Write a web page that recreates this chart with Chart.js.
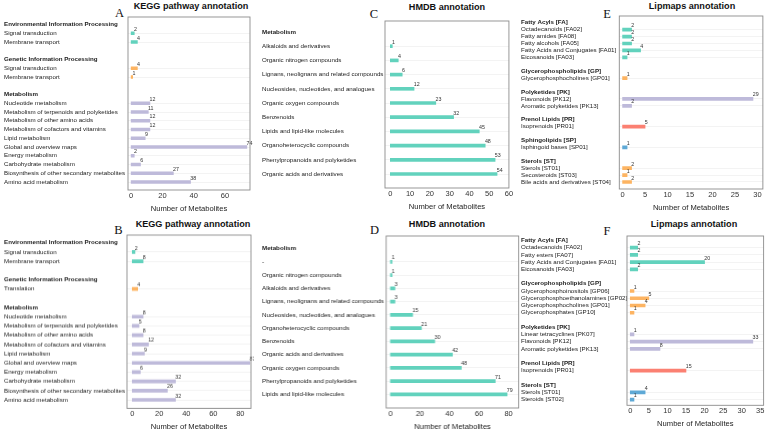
<!DOCTYPE html>
<html>
<head>
<meta charset="utf-8">
<script src="https://cdn.jsdelivr.net/npm/chart.js@4.4.1/dist/chart.umd.min.js"></script>
<style>
body { margin: 0; background: #fff; width: 766px; height: 434px; position: relative; overflow: hidden; font-family: "Liberation Sans", Arial, sans-serif; }
.panel { position: absolute; }
.title { position: absolute; font-weight: bold; font-size: 9.1px; color: #111; transform: translate(-50%, -50%); white-space: nowrap; line-height: 1; }
.tag { position: absolute; font-family: "Liberation Serif", "Times New Roman", serif; font-size: 12.5px; color: #111; transform: translate(-50%, -50%); line-height: 1; }
</style>
</head>
<body>
<div class="title" style="left:191px;top:7px">KEGG pathway annotation</div>
<div class="title" style="left:193px;top:225px">KEGG pathway annotation</div>
<div class="title" style="left:447px;top:8px">HMDB annotation</div>
<div class="title" style="left:447px;top:225px">HMDB annotation</div>
<div class="title" style="left:692px;top:7px">Lipmaps annotation</div>
<div class="title" style="left:694px;top:225px">Lipmaps annotation</div>
<div class="tag" style="left:119.5px;top:12.5px">A</div>
<div class="tag" style="left:118.5px;top:229.5px">B</div>
<div class="tag" style="left:374px;top:14px">C</div>
<div class="tag" style="left:374.5px;top:229.5px">D</div>
<div class="tag" style="left:607px;top:14px">E</div>
<div class="tag" style="left:607px;top:231px">F</div>
<script>
const FONT = '"Liberation Sans", Arial, sans-serif';
const TEAL = '#62d2bd', ORANGE = '#fdb462', LAVENDER = '#bebada', SALMON = '#fb8072', BLUE = '#5ea9d6';

// A: KEGG
const keggAGroups = ['Environmental Information Processing', 'Genetic Information Processing', 'Metabolism'];
const keggAItems = [
    ['Signal transduction', 'Membrane transport'],
    ['Signal transduction', 'Membrane transport'],
    ['Nucleotide metabolism', 'Metabolism of terpenoids and polyketides', 'Metabolism of other amino acids',
     'Metabolism of cofactors and vitamins', 'Lipid metabolism', 'Global and overview maps', 'Energy metabolism',
     'Carbohydrate metabolism', 'Biosynthesis of other secondary metabolites', 'Amino acid metabolism']
];
const keggAValues = [[2, 4], [4, 1], [12, 11, 12, 12, 9, 74, 2, 6, 27, 38]];

// B: KEGG
const keggBGroups = ['Environmental Information Processing', 'Genetic Information Processing', 'Metabolism'];
const keggBItems = [
    ['Signal transduction', 'Membrane transport'],
    ['Translation'],
    keggAItems[2]
];
const keggBValues = [[2, 8], [4], [8, 5, 8, 12, 9, 87, 6, 32, 26, 32]];
const keggColors = [TEAL, ORANGE, LAVENDER];

// C: HMDB
const hmdbCGroups = ['Metabolism'];
const hmdbCItems = [[
    'Alkaloids and derivatives', 'Organic nitrogen compounds', 'Lignans, neolignans and related compounds',
    'Nucleosides, nucleotides, and analogues', 'Organic oxygen compounds', 'Benzenoids',
    'Lipids and lipid-like molecules', 'Organoheterocyclic compounds', 'Phenylpropanoids and polyketides',
    'Organic acids and derivatives'
]];
const hmdbCValues = [[1, 4, 6, 12, 23, 32, 45, 48, 53, 54]];

// D: HMDB
const hmdbDGroups = ['Metabolism'];
const hmdbDItems = [[
    '-', 'Organic nitrogen compounds', 'Alkaloids and derivatives', 'Lignans, neolignans and related compounds',
    'Nucleosides, nucleotides, and analogues', 'Organoheterocyclic compounds', 'Benzenoids',
    'Organic acids and derivatives', 'Organic oxygen compounds', 'Phenylpropanoids and polyketides',
    'Lipids and lipid-like molecules'
]];
const hmdbDValues = [[1, 1, 3, 3, 15, 21, 30, 42, 48, 71, 79]];
const hmdbColors = [TEAL];

// E: Lipmaps
const lipEGroups = ['Fatty Acyls [FA]', 'Glycerophospholipids [GP]', 'Polyketides [PK]', 'Prenol Lipids [PR]', 'Sphingolipids [SP]', 'Sterols [ST]'];
const lipEItems = [
    ['Octadecanoids [FA02]', 'Fatty amides [FA08]', 'Fatty alcohols [FA05]', 'Fatty Acids and Conjugates [FA01]', 'Eicosanoids [FA03]'],
    ['Glycerophosphocholines [GP01]'],
    ['Flavonoids [PK12]', 'Aromatic polyketides [PK13]'],
    ['Isoprenoids [PR01]'],
    ['Isphingoid bases [SP01]'],
    ['Sterols [ST01]', 'Secosteroids [ST03]', 'Bile acids and derivatives [ST04]']
];
const lipEValues = [[2, 2, 2, 4, 1], [1], [29, 2], [5], [1], [2, 1, 2]];
const lipEColors = [TEAL, ORANGE, LAVENDER, SALMON, BLUE, ORANGE];

// F: Lipmaps
const lipFGroups = ['Fatty Acyls [FA]', 'Glycerophospholipids [GP]', 'Polyketides [PK]', 'Prenol Lipids [PR]', 'Sterols [ST]'];
const lipFItems = [
    ['Octadecanoids [FA02]', 'Fatty esters [FA07]', 'Fatty Acids and Conjugates [FA01]', 'Eicosanoids [FA03]'],
    ['Glycerophosphoinositols [GP06]', 'Glycerophosphoethanolamines [GP02]', 'Glycerophosphocholines [GP01]', 'Glycerophosphates [GP10]'],
    ['Linear tetracyclines [PK07]', 'Flavonoids [PK12]', 'Aromatic polyketides [PK13]'],
    ['Isoprenoids [PR01]'],
    ['Sterols [ST01]', 'Steroids [ST02]']
];
const lipFValues = [[2, 2, 20, 2], [1, 5, 4, 1], [1, 33, 8], [15], [4, 1]];
const lipFColors = [TEAL, ORANGE, LAVENDER, SALMON, BLUE];

// header row, its items, then a blank spacer row between groups
function buildRows(groups, items, values, colors, gap) {
    const labels = [], data = [], bg = [], heads = new Set();
    groups.forEach((g, i) => {
        heads.add(labels.length);
        labels.push(g); data.push(null); bg.push('rgba(0,0,0,0)');
        items[i].forEach((it, j) => {
            labels.push(it); data.push(values[i][j]); bg.push(colors[i]);
        });
        if (gap && i < groups.length - 1) {
            labels.push(''); data.push(null); bg.push('rgba(0,0,0,0)');
        }
    });
    return { labels, data, bg, heads };
}

const framePlugin = {
    id: 'frame',
    afterDraw(chart, args, opts) {
        const { left, right } = chart.chartArea;
        const c = chart.ctx;
        c.save();
        c.strokeStyle = '#8c8c8c';
        c.lineWidth = 0.9;
        c.strokeRect(left, opts.top, right - left, opts.bottom - opts.top);
        c.restore();
    }
};

const valuePlugin = {
    id: 'values',
    afterDatasetsDraw(chart) {
        const c = chart.ctx;
        const meta = chart.getDatasetMeta(0);
        const vals = chart.data.datasets[0].data;
        c.save();
        c.font = '5.3px ' + FONT;
        c.fillStyle = '#333';
        c.textAlign = 'left';
        c.textBaseline = 'bottom';
        meta.data.forEach((bar, i) => {
            if (vals[i] == null) return;
            c.fillText(String(vals[i]), bar.x - 0.3, bar.y - 1.2);
        });
        c.restore();
    }
};

function drawPanel(rows, cfg) {
    const n = rows.labels.length;
    const s = (cfg.yN - cfg.y1) / (n - 1);
    const chartTop = cfg.y1 - s / 2, chartBottom = cfg.yN + s / 2;
    const cTop = cfg.boxT - 3, cLeft = cfg.labelX - 1;
    const cW = cfg.boxR + 3 - cLeft, cH = cfg.boxB + 25 - cTop;

    const div = document.createElement('div');
    div.className = 'panel';
    div.style.left = cLeft + 'px';
    div.style.top = cTop + 'px';
    div.style.width = cW + 'px';
    div.style.height = cH + 'px';
    const cv = document.createElement('canvas');
    div.appendChild(cv);
    document.body.appendChild(div);

    new Chart(cv, {
        type: 'bar',
        data: {
            labels: rows.labels,
            datasets: [{ data: rows.data, backgroundColor: rows.bg, barThickness: 3, borderWidth: 0 }]
        },
        options: {
            indexAxis: 'y',
            responsive: true,
            maintainAspectRatio: false,
            animation: false,
            events: [],
            layout: { padding: { left: 1, right: 3, top: chartTop - cTop, bottom: 2 } },
            plugins: {
                legend: { display: false },
                tooltip: { enabled: false },
                frame: { top: cfg.boxT - cTop, bottom: cfg.boxB - cTop }
            },
            scales: {
                x: {
                    type: 'linear',
                    min: cfg.xMin,
                    max: cfg.xMax,
                    border: { display: false },
                    grid: { display: false, drawTicks: false },
                    ticks: {
                        stepSize: cfg.step,
                        includeBounds: false,
                        maxRotation: 0,
                        padding: cfg.boxB - chartBottom + 1,
                        color: '#333',
                        font: { family: FONT, size: 7.5 }
                    },
                    title: {
                        display: true,
                        text: 'Number of Metabolites',
                        color: '#222',
                        padding: 0,
                        font: { family: FONT, size: 7.6 }
                    },
                    afterFit(sc) { sc.height = cfg.boxB + 23 - chartBottom; }
                },
                y: {
                    type: 'category',
                    offset: true,
                    border: { display: false },
                    grid: {
                        offset: false,
                        drawTicks: false,
                        lineWidth: 0.6,
                        color: ctx => rows.data[ctx.index] == null ? 'rgba(0,0,0,0)' : '#ebebeb'
                    },
                    ticks: {
                        crossAlign: 'far',
                        autoSkip: false,
                        padding: 0,
                        color: '#222',
                        font: ctx => ({ family: FONT, size: 6.2, weight: rows.heads.has(ctx.index) ? 'bold' : 'normal' })
                    },
                    afterFit(sc) { sc.width = cfg.boxL - cfg.labelX; }
                }
            }
        },
        plugins: [framePlugin, valuePlugin]
    });
}

drawPanel(buildRows(keggAGroups, keggAItems, keggAValues, keggColors, true),
    { labelX: 4, boxL: 128, boxR: 250, boxT: 17, boxB: 190, y1: 24.5, yN: 182, xMin: -2, xMax: 76, step: 20 });
drawPanel(buildRows(keggBGroups, keggBItems, keggBValues, keggColors, true),
    { labelX: 4, boxL: 127, boxR: 251, boxT: 235, boxB: 407.5, y1: 242.7, yN: 399, xMin: -3.9, xMax: 87.9, step: 20 });
drawPanel(buildRows(hmdbCGroups, hmdbCItems, hmdbCValues, hmdbColors, false),
    { labelX: 262, boxL: 385, boxR: 518, boxT: 21, boxB: 188, y1: 32, yN: 174, xMin: -2.7, xMax: 60, step: 10 });
drawPanel(buildRows(hmdbDGroups, hmdbDItems, hmdbDValues, hmdbColors, false),
    { labelX: 262, boxL: 385.7, boxR: 517.7, boxT: 235.7, boxB: 407.7, y1: 248.3, yN: 394, xMin: -2.9, xMax: 86.9, step: 20 });
drawPanel(buildRows(lipEGroups, lipEItems, lipEValues, lipEColors, true),
    { labelX: 520.7, boxL: 619, boxR: 763, boxT: 16, boxB: 189, y1: 22.7, yN: 182, xMin: -0.73, xMax: 31.2, step: 5 });
drawPanel(buildRows(lipFGroups, lipFItems, lipFValues, lipFColors, true),
    { labelX: 520.7, boxL: 626.7, boxR: 764.3, boxT: 235.7, boxB: 405, y1: 240, yN: 399.3, xMin: -0.88, xMax: 35.9, step: 5 });
</script>
</body>
</html>
